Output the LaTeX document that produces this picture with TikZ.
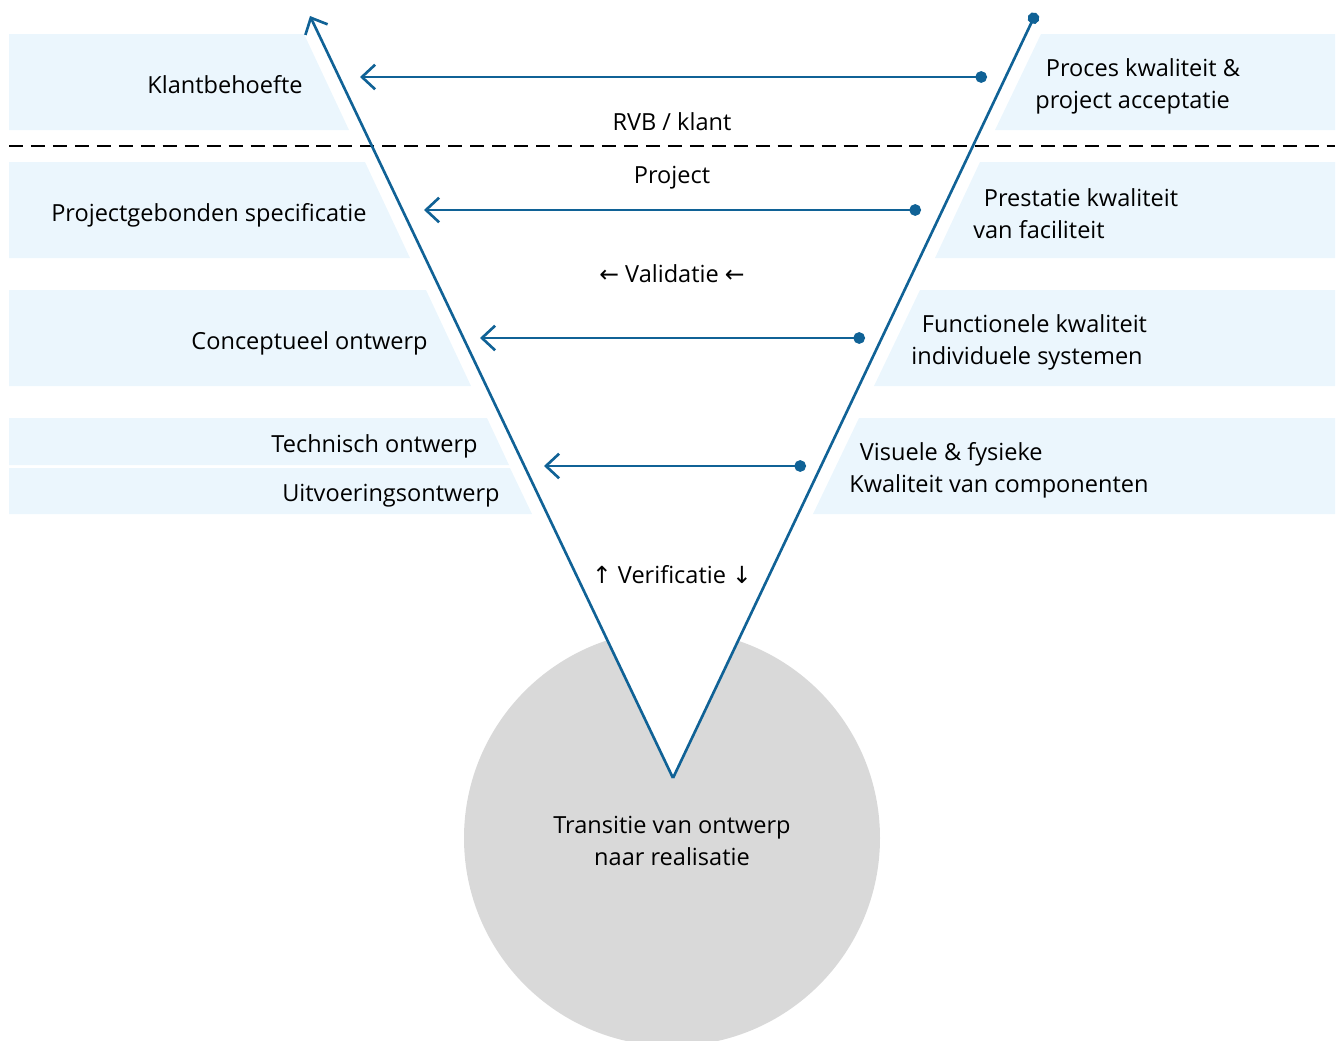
\documentclass[tikz,border=0pt]{standalone}
\usepackage{fontspec}
\setmainfont{Open Sans}
\newfontfamily\arrowfont{DejaVu Sans}
\usetikzlibrary{arrows.meta, positioning}
\definecolor{vblue}{RGB}{16,98,150}
\definecolor{panelblue}{RGB}{235,246,253}
\definecolor{circlegray}{RGB}{217,217,217}

\begin{document}
\begin{tikzpicture}[
    x=0.02cm, y=-0.02cm,
    panel/.style={fill=panelblue},
    txt/.style={font=\fontsize{13.4}{18.1}\selectfont, inner sep=0pt, align=left},
    vline/.style={vblue, line width=1.5pt},
    flow/.style={vblue, line width=1.5pt, {Circle[length=6.6pt]}-{Straight Barb[length=7.5pt, width=14pt]}},
    divider/.style={black, line width=1.2pt, dash pattern=on 8pt off 4.5pt}
]
\useasboundingbox (0,0) rectangle (1340,1041);
\clip (0,0) rectangle (1340,1041);

\coordinate (tip) at (673,778);
\coordinate (ltop) at (310,16);
\coordinate (rtop) at (1036,13);

% achtergrond
\fill[circlegray] (672,838) circle[radius=208];
\fill[white] (ltop) -- (tip) -- (1033,19) -- cycle;

\fill[panel] (9,34) -- (304,34) -- (349,130) -- (9,130) -- cycle;
\fill[panel] (9,162) -- (365,162) -- (410,258) -- (9,258) -- cycle;
\fill[panel] (9,290) -- (426,290) -- (471,386) -- (9,386) -- cycle;
\fill[panel] (9,418) -- (487,418) -- (509,465) -- (9,465) -- cycle;
\fill[panel] (9,468) -- (510,468) -- (532,514) -- (9,514) -- cycle;

\fill[panel] (1041,34) -- (1335,34) -- (1335,130) -- (995,130) -- cycle;
\fill[panel] (980,162) -- (1335,162) -- (1335,258) -- (935,258) -- cycle;
\fill[panel] (920,290) -- (1335,290) -- (1335,386) -- (874,386) -- cycle;
\fill[panel] (859,418) -- (1335,418) -- (1335,514) -- (813,514) -- cycle;

\coordinate (dl) at (9,146);
\coordinate (dr) at (1335,146);
\draw[divider] (dl) -- (dr);

% V
\draw[vline, -{Straight Barb[length=7.5pt, width=14pt]}] (tip) -- (ltop);
\draw[vline, -{Circle[length=6.6pt]}] (tip) -- (rtop);

\coordinate (d1) at (987,77);   \coordinate (a1) at (360,77);
\coordinate (d2) at (921,210);  \coordinate (a2) at (424,210);
\coordinate (d3) at (865,338);  \coordinate (a3) at (480,338);
\coordinate (d4) at (806,466);  \coordinate (a4) at (544,466);
\draw[flow] (d1) -- (a1);
\draw[flow] (d2) -- (a2);
\draw[flow] (d3) -- (a3);
\draw[flow] (d4) -- (a4);

% links
\node[txt, anchor=east] (klant) at (303,85) {Klantbehoefte};
\node[txt, anchor=east] (spec) at (367,215) {Projectgebonden specificatie};
\node[txt, anchor=east] (concept) at (428,343) {Conceptueel ontwerp};
\node[txt, anchor=east] (techn) at (478,446) {Technisch ontwerp};
\node[txt, anchor=east] (uitv) at (500,496) {Uitvoeringsontwerp};

% rechts
\node[txt, anchor=west] (proces) at (1035,86) {\hspace*{6pt}Proces kwaliteit \&\\project acceptatie};
\node[txt, anchor=west] (prestatie) at (973,214) {\hspace*{6pt}Prestatie kwaliteit\\van faciliteit};
\node[txt, anchor=west] (functie) at (911,342) {\hspace*{6pt}Functionele kwaliteit\\individuele systemen};
\node[txt, anchor=west] (visueel) at (849,470) {\hspace*{6pt}Visuele \& fysieke\\Kwaliteit van componenten};

% midden
\node[txt] (rvb) at (672,122) {RVB / klant};
\node[txt] (project) at (672,178) {Project};
\node[txt] (validatie) at (672,274) {{\arrowfont ←} Validatie {\arrowfont ←}};
\node[txt] (verificatie) at (672,575) {{\arrowfont ↑} Verificatie {\arrowfont ↓}};
\node[txt, align=center] (transitie) at (672,841) {Transitie van ontwerp\\naar realisatie};

\end{tikzpicture}
\end{document}
